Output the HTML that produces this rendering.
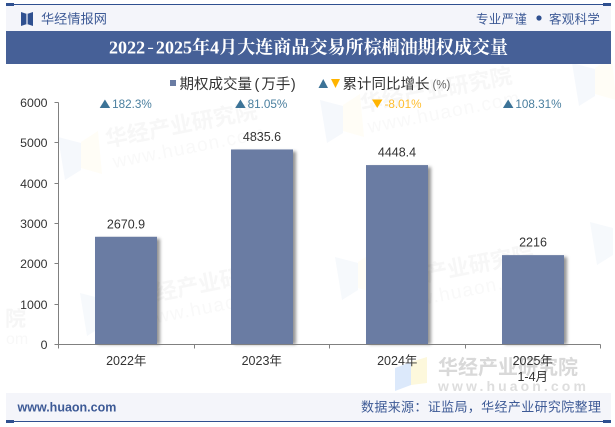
<!DOCTYPE html>
<html lang="zh">
<head>
<meta charset="utf-8">
<title>2022-2025年4月大连商品交易所棕榈油期权成交量</title>
<style>
html,body{margin:0;padding:0;background:#fff;}
body{width:615px;height:427px;overflow:hidden;}
svg{display:block;}
text{font-family:"Liberation Sans","Noto Sans CJK SC",sans-serif;}
.serif{font-family:"Liberation Serif","Noto Serif CJK SC",serif;}
</style>
</head>
<body>
<svg id="chart" xmlns="http://www.w3.org/2000/svg" width="615" height="427" viewBox="0 0 615 427">
  <defs>
    <filter id="bar-shadow" x="-10%" y="-5%" width="130%" height="110%">
      <feGaussianBlur stdDeviation="1.5"/>
    </filter>
  </defs>
  <rect x="0" y="0" width="615" height="427" fill="#ffffff"/>

  <g id="watermarks">
    <g transform="translate(58,137)">
      <polygon points="0,0 23,6 23,33 7,43" fill="#f5f8fc"/>
      <polygon points="23,5 40,-6 44,37 23,31" fill="#fffdf6"/>
      <g transform="translate(49,10) rotate(-11)">
        <text font-size="22" font-weight="700" fill="#f7f7f7">华经产业研究院</text>
        <text x="3" y="22" font-size="19" letter-spacing="1.2" fill="#f9f9f9">www.huaon.com</text>
      </g>
    </g>
    <g transform="translate(320,100)">
      <polygon points="0,0 23,6 23,33 7,43" fill="#f5f8fc"/>
      <polygon points="23,5 40,-6 44,37 23,31" fill="#fffdf6"/>
      <g transform="translate(42,12) rotate(-11)">
        <text font-size="22" font-weight="700" fill="#f7f7f7">华经产业研究院</text>
        <text x="3" y="22" font-size="19" letter-spacing="1.2" fill="#f9f9f9">www.huaon.com</text>
      </g>
    </g>
    <g transform="translate(572,63)">
      <polygon points="0,0 23,6 23,33 7,43" fill="#f5f8fc"/>
      <polygon points="23,5 40,-6 44,37 23,31" fill="#fffdf6"/>
    </g>
    <g transform="translate(80,293)">
      <polygon points="0,0 23,6 23,33 7,43" fill="#f6f9fc"/>
      <polygon points="23,5 40,-6 44,37 23,31" fill="#fffdf6"/>
      <g transform="translate(55,12) rotate(-11)">
        <text font-size="22" font-weight="700" fill="#f7f7f7">华经产业研究院</text>
        <text x="3" y="22" font-size="19" letter-spacing="1.2" fill="#f9f9f9">www.huaon.com</text>
      </g>
    </g>
    <g transform="translate(335,257)">
      <polygon points="0,0 23,6 23,33 7,43" fill="#f6f9fc"/>
      <polygon points="23,5 40,-6 44,37 23,31" fill="#fffdf6"/>
      <g transform="translate(49,33) rotate(-11)">
        <text font-size="22" font-weight="700" fill="#f7f7f7">华经产业研究院</text>
        <text x="3" y="22" font-size="19" letter-spacing="1.2" fill="#f9f9f9">www.huaon.com</text>
      </g>
    </g>
    <g transform="translate(590,222)">
      <polygon points="0,0 23,6 23,33 7,43" fill="#f6f9fc"/>
    </g>
    <g>
      <text x="5" y="326" font-size="21" font-weight="700" fill="#f6f6f6">院</text>
      <text x="6" y="344" font-size="16" fill="#f8f8f8">om</text>
    </g>
    <g>
      <polygon points="395,368 411,362 411,385 395,391" fill="#dce9fb"/>
      <polygon points="411,362 427,357 427,383 411,385" fill="#fdf8dc"/>
      <text x="438" y="374" font-size="20" font-weight="700" fill="#d9d9d9">华经产业研究院</text>
      <text x="438" y="391" font-size="14" font-weight="700" letter-spacing="3.1" fill="#dedede">www.huaon.com</text>
    </g>
  </g>

  <g>
    <rect x="6" y="5" width="605" height="26" fill="#f4f5fa"/>
    <rect x="6" y="4" width="605" height="1" fill="#2f5090"/>
    <rect x="6" y="3" width="8" height="3" fill="#2f5090"/>
    <rect x="603" y="3" width="8" height="3" fill="#2f5090"/>
    <g>
      <polygon points="21,12 27,14 27,24 21,26" fill="#2f5090"/>
      <polygon points="33,12 27,14 27,24 33,26" fill="#2f5090"/>
      <rect x="26.400" y="14" width="1.200" height="10" fill="#f4f5fa"/>
    </g>
    <text x="41" y="23.500" font-size="13.200" fill="#3d5a96">华经情报网</text>
    <text x="476" y="23.500" font-size="12.500" letter-spacing="0.300" fill="#3d5a96">专业严谨</text>
    <circle cx="539" cy="18" r="2.600" fill="#2f5090"/>
    <text x="549" y="23.500" font-size="12.500" letter-spacing="0.300" fill="#3d5a96">客观科学</text>
    <rect x="6" y="31" width="605" height="33" fill="#466097"/>
    <text class="serif" x="308.500" y="53.500" font-size="18" font-weight="700" letter-spacing="0.050" text-anchor="middle" fill="#ffffff">2022<tspan font-family="Noto Serif CJK SC" dx="2">-</tspan><tspan dx="2">2025</tspan>年4月大连商品交易所棕榈油期权成交量</text>
  </g>

  <g>
    <rect x="170" y="80" width="6" height="6" fill="#6a7ca3"/>
    <text x="179.500" y="89" font-size="14.500" fill="#333333">期权成交量<tspan dx="2.500">(</tspan><tspan dx="2">万手</tspan><tspan dx="0.500">)</tspan></text>
    <polygon points="318.500,88 328,88 323.250,79" fill="#3c7397"/>
    <polygon points="331,79 340,79 335.500,88" fill="#ffb400"/>
    <text x="342.500" y="89" font-size="14.500" fill="#333333">累计同比增长</text>
    <text x="432.500" y="88.500" font-size="11.500" fill="#666666">(%)</text>
  </g>

  <g id="plot"></g>

  <g>
    <rect x="6" y="393" width="605" height="28" fill="#f4f5fa"/>
    <rect x="6" y="421" width="605" height="1" fill="#2f5090"/>
    <rect x="6" y="420" width="8" height="3" fill="#2f5090"/>
    <rect x="603" y="420" width="8" height="3" fill="#2f5090"/>
    <text x="17.500" y="411.500" font-size="12.500" font-weight="700" fill="#3d5a96">www.huaon.com</text>
    <text x="361" y="411.500" font-size="13" letter-spacing="0.350" fill="#3d5a96">数据来源：证监局，华经产业研究院整理</text>
  </g>
</svg>
<script>
const categories = ['2022年', '2023年', '2024年', '2025年'];
const subCategories = ['', '', '', '1-4月'];
const volumeValues = [2670.9, 4835.6, 4448.4, 2216];
const volumeLabels = ['2670.9', '4835.6', '4448.4', '2216'];
const growthValues = [182.3, 81.05, -8.01, 108.31];
const growthLabels = ['182.3%', '81.05%', '-8.01%', '108.31%'];
const yTicks = [0, 1000, 2000, 3000, 4000, 5000, 6000];

const NS = 'http://www.w3.org/2000/svg';
const plot = document.getElementById('plot');
const axisLeft = 58.5, axisRight = 600.5, axisBottom = 344.5, axisTop = 102.5, yMax = 6000, barWidth = 62;
const bandWidth = (axisRight - axisLeft) / categories.length;
function xScale(i) { return axisLeft + bandWidth * (i + 0.5); }
function yScale(v) { return axisBottom - (v / yMax) * (axisBottom - axisTop); }
function make(tag, attrs, text) {
  const el = document.createElementNS(NS, tag);
  for (const k in attrs) el.setAttribute(k, attrs[k]);
  if (text !== undefined) el.textContent = text;
  plot.appendChild(el);
  return el;
}

categories.forEach(function (c, i) {
  const top = yScale(volumeValues[i]);
  const left = Math.floor(xScale(i) - barWidth / 2 + 0.3);
  const shadow = make('rect', {x: left + 3, y: top + 2, width: barWidth, height: axisBottom - top - 2, fill: '#000000', 'fill-opacity': 0.42, filter: 'url(#bar-shadow)'});
  
  
  const bar = make('rect', {x: left, y: top, width: barWidth, height: axisBottom - top, fill: '#6a7ca3'});
  
  
  const label = make('text', {x: left + barWidth / 2, y: top - 8.5, 'font-size': 12.5, 'text-anchor': 'middle', fill: '#333333'}, volumeLabels[i]);
  
  

  const up = growthValues[i] >= 0;
  const color = up ? '#3c7397' : '#ffb400';
  const growth = make('text', {x: 0, y: 108, 'font-size': 11.7, fill: up ? '#4a7f9f' : '#ffbe2e'}, growthLabels[i]);
  
  
  const textWidth = growth.getComputedTextLength();
  const groupLeft = xScale(i) - 0.5 - (12.5 + textWidth) / 2;
  growth.setAttribute('x', groupLeft + 12.5);
  const tri = make('polygon', {points: up ? groupLeft + ',108 ' + (groupLeft + 10.5) + ',108 ' + (groupLeft + 5.25) + ',99.5' : groupLeft + ',99.5 ' + (groupLeft + 10.5) + ',99.5 ' + (groupLeft + 5.25) + ',108', fill: color});
  
  

  const cat = make('text', {x: xScale(i), y: 365, 'font-size': 12.5, 'text-anchor': 'middle', fill: '#333333'}, c);
  
  
  if (subCategories[i]) {
    const sub = make('text', {x: xScale(i), y: 381, 'font-size': 12.5, 'text-anchor': 'middle', fill: '#333333'}, subCategories[i]);
    
    
  }
});

const yAxis = make('line', {x1: axisLeft, x2: axisLeft, y1: axisTop, y2: axisBottom, stroke: '#808080', 'stroke-width': 1});


const xAxis = make('line', {x1: axisLeft - 4, x2: axisRight, y1: axisBottom, y2: axisBottom, stroke: '#808080', 'stroke-width': 1});



yTicks.forEach(function (t) {
  const y = Math.round(yScale(t) - 0.5) + 0.5;
  const tick = make('line', {x1: axisLeft - 4, x2: axisLeft, y1: y, y2: y, stroke: '#808080', 'stroke-width': 1});
  
  
  const label = make('text', {x: 47.5, y: y + 4.3, 'font-size': 12.3, 'text-anchor': 'end', fill: '#333333'}, String(t));
  
  
});

for (let i = 0; i <= categories.length; i++) {
  const x = Math.round(axisLeft + bandWidth * i - 0.5) + 0.5;
  const tick = make('line', {x1: x, x2: x, y1: axisBottom, y2: axisBottom + 4, stroke: '#808080', 'stroke-width': 1});
  
  
}
</script>
</body>
</html>
